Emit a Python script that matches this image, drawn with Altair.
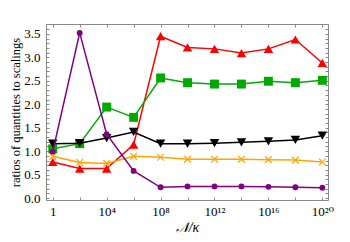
import altair as alt
import pandas as pd

xvals = [1, 1e2, 1e4, 1e6, 1e8, 1e10, 1e12, 1e14, 1e16, 1e18, 1e20]
red = [0.77, 0.63, 0.63, 1.14, 3.45, 3.21, 3.18, 3.09, 3.18, 3.38, 2.88]
green = [1.05, 1.16, 1.94, 1.72, 2.56, 2.46, 2.43, 2.43, 2.49, 2.46, 2.51]
black = [1.16, 1.17, 1.28, 1.41, 1.16, 1.16, 1.17, 1.19, 1.21, 1.24, 1.33]
orange = [0.89, 0.76, 0.74, 0.89, 0.87, 0.83, 0.83, 0.83, 0.82, 0.81, 0.77]
purple = [0.99, 3.52, 1.36, 0.58, 0.23, 0.25, 0.25, 0.25, 0.24, 0.23, 0.22]

xticks = [1, 1e2, 1e4, 1e6, 1e8, 1e10, 1e12, 1e14, 1e16, 1e18, 1e20]
yticks = [round(i * 0.1, 1) for i in range(0, 37)]

XSHAPE = "M-1,-1L1,1M-1,1L1,-1"
series = [
    ("red", red, "#ff0000", "triangle-up", True, 90),
    ("green", green, "#00aa00", "square", True, 80),
    ("black", black, "#000000", "triangle-down", True, 90),
    ("orange", orange, "#ffa500", XSHAPE, False, 45),
    ("purple", purple, "#800080", "circle", True, 35),
]

FONT = "Liberation Serif, DejaVu Serif, serif"
xdom = [10 ** -0.5, 10 ** 20.42]
ydom = [-0.04, 3.71]
xlab = ("round(log(datum.value)/LN10) % 4 != 0 ? '' : "
        "['1','10⁴','10⁸','10¹²','10¹⁶','10²⁰'][round(log(datum.value)/LN10/4)]")
ylab = "abs(datum.value*2 - round(datum.value*2)) < 0.01 ? format(datum.value, '.1f') : ''"

xscale = alt.Scale(type="log", domain=xdom, nice=False)
yscale = alt.Scale(domain=ydom, nice=False, zero=False)

xenc = alt.X("x:Q", scale=xscale,
             axis=alt.Axis(values=xticks, labelExpr=xlab, labelOverlap=False,
                           title="𝒩/κ", grid=False, domain=False,
                           tickSize={"expr": "-3"}, tickColor="#888", labelPadding=8,
                           labelFont=FONT, labelFontSize=13, labelColor="#000",
                           titleFont=FONT, titleColor="#000",
                           titleFontSize=14, titleFontWeight="normal",
                           titleY=31, titleBaseline="alphabetic",
                           titleFontStyle="italic"))
yenc = alt.Y("y:Q", scale=yscale,
             axis=alt.Axis(values=yticks, labelExpr=ylab, labelOverlap=False,
                           title="ratios of quantities to scalings", grid=False,
                           domain=False, tickSize={"expr": "-3"}, tickColor="#888",
                           labelPadding=9, labelFont=FONT, labelFontSize=13, labelColor="#000",
                           titleFont=FONT, titleFontSize=12.5, titleFontWeight="normal",
                           titleColor="#000", titleX=-31, titleBaseline="middle"))

layers = []
for i, (name, vals, col, shape, filled, size) in enumerate(series):
    df = pd.DataFrame({"x": xvals, "y": vals})
    line = alt.Chart(df).mark_line(color=col, strokeWidth=1.5).encode(x=xenc, y=yenc)
    if filled:
        pts = alt.Chart(df).mark_point(shape=shape, filled=True, color=col, size=size, opacity=1).encode(x=xenc, y=yenc)
    else:
        pts = alt.Chart(df).mark_point(shape=shape, filled=False, color=col, size=size,
                                       strokeWidth=1.2, opacity=1).encode(x=xenc, y=yenc)
    layers += [line, pts]

ghost = alt.Chart(pd.DataFrame({"x": xvals, "y": red})).mark_line(opacity=0).encode(
    x=alt.X("x:Q", scale=xscale,
            axis=alt.Axis(orient="top", values=xticks, labels=False, title=None, grid=False,
                          domain=False, tickSize={"expr": "-3"}, tickColor="#888")),
    y=alt.Y("y:Q", scale=yscale,
            axis=alt.Axis(orient="right", values=yticks, labels=False, title=None, grid=False,
                          domain=False, tickSize={"expr": "-3"}, tickColor="#888")),
)

chart = alt.layer(alt.layer(*layers), ghost).resolve_axis(
    x="independent", y="independent"
).properties(
    width=282, height=176,
    autosize=alt.AutoSizeParams(type="none"),
    padding={"left": 38, "top": 16, "right": 14, "bottom": 34},
).configure_view(stroke="#888888", strokeWidth=1)

chart.save("out.html", embed_options={"renderer": "svg", "actions": False})
